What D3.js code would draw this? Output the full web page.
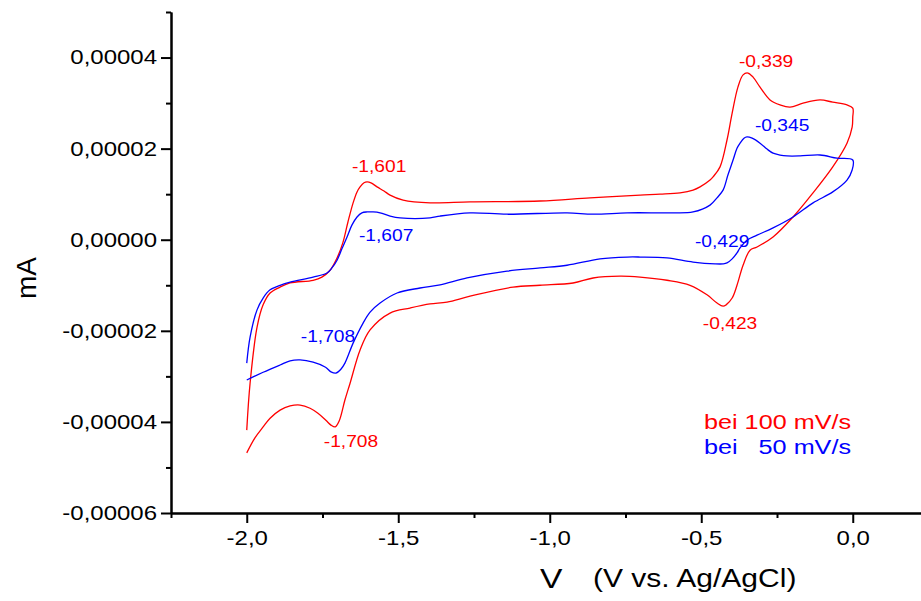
<!DOCTYPE html>
<html>
<head>
<meta charset="utf-8">
<script src="https://cdn.jsdelivr.net/npm/d3@7"></script>
<style>
  body { margin: 0; background: #fff; }
  text { font-family: Arial, "Liberation Sans", sans-serif; }
</style>
</head>
<body>
<svg id="chart" width="921" height="601"></svg>
<script>
// cyclic voltammograms, potential in V, current in 1e-5 mA
var I_UNIT = 1e-5;

var redV = [-2.000,-1.989,-1.966,-1.946,-1.923,-1.890,-1.857,-1.781,-1.752,-1.725,-1.702,-1.683,-1.666,-1.649,-1.636,-1.626,-1.613,-1.603,-1.590,-1.570,-1.547,-1.527,-1.484,-1.395,-1.263,-1.032,-0.867,-0.702,-0.636,-0.570,-0.527,-0.504,-0.471,-0.461,-0.438,-0.415,-0.398,-0.379,-0.362,-0.346,-0.329,-0.306,-0.273,-0.240,-0.207,-0.164,-0.108,-0.066,-0.019,0.000,
            0.000,-0.002,-0.019,-0.066,-0.131,-0.197,-0.263,-0.316,-0.339,-0.362,-0.382,-0.398,-0.418,-0.428,-0.448,-0.481,-0.537,-0.613,-0.702,-0.768,-0.857,-0.923,-1.032,-1.121,-1.263,-1.339,-1.395,-1.461,-1.527,-1.593,-1.626,-1.659,-1.676,-1.695,-1.708,-1.722,-1.738,-1.765,-1.791,-1.824,-1.857,-1.890,-1.923,-1.946,-1.973,-2.000];
var redI = [-4.18,-3.15,-1.92,-1.43,-1.17,-1.04,-0.95,-0.89,-0.82,-0.67,-0.40,-0.07,0.39,0.81,1.05,1.16,1.25,1.27,1.25,1.16,1.07,0.98,0.87,0.81,0.83,0.85,0.92,0.98,1.00,1.03,1.09,1.16,1.31,1.38,1.60,2.19,2.78,3.35,3.62,3.66,3.57,3.35,3.07,2.96,2.91,3.00,3.07,3.02,2.96,2.89,
            2.69,2.47,2.12,1.60,1.03,0.50,0.06,-0.16,-0.23,-0.56,-1.00,-1.28,-1.43,-1.46,-1.39,-1.21,-1.00,-0.89,-0.82,-0.80,-0.84,-0.95,-1.00,-1.04,-1.24,-1.37,-1.41,-1.50,-1.61,-1.98,-2.42,-3.15,-3.52,-3.98,-4.11,-4.07,-3.97,-3.81,-3.70,-3.63,-3.65,-3.74,-3.92,-4.11,-4.35,-4.68];

var blueV = [-2.000,-1.989,-1.966,-1.946,-1.923,-1.890,-1.857,-1.781,-1.735,-1.719,-1.702,-1.686,-1.669,-1.653,-1.636,-1.620,-1.603,-1.583,-1.560,-1.527,-1.494,-1.395,-1.362,-1.263,-1.141,-0.943,-0.857,-0.745,-0.636,-0.593,-0.527,-0.471,-0.448,-0.428,-0.412,-0.395,-0.382,-0.372,-0.359,-0.349,-0.332,-0.306,-0.283,-0.263,-0.240,-0.217,-0.174,-0.108,-0.052,0.000,
             -0.002,-0.019,-0.066,-0.131,-0.197,-0.263,-0.316,-0.349,-0.372,-0.382,-0.398,-0.415,-0.428,-0.454,-0.527,-0.613,-0.702,-0.745,-0.834,-0.943,-1.032,-1.141,-1.273,-1.362,-1.428,-1.504,-1.560,-1.593,-1.616,-1.649,-1.676,-1.690,-1.706,-1.722,-1.740,-1.781,-1.824,-1.857,-1.890,-1.946,-2.000];
var blueI = [-2.71,-2.14,-1.54,-1.28,-1.10,-1.00,-0.93,-0.82,-0.73,-0.62,-0.45,-0.20,0.06,0.32,0.50,0.59,0.61,0.61,0.59,0.52,0.48,0.48,0.52,0.59,0.56,0.59,0.56,0.59,0.59,0.59,0.61,0.76,0.92,1.09,1.42,1.75,2.01,2.12,2.23,2.26,2.23,2.12,1.99,1.90,1.86,1.84,1.84,1.86,1.79,1.75,
             1.53,1.31,1.05,0.81,0.50,0.26,0.10,-0.01,-0.18,-0.29,-0.42,-0.51,-0.53,-0.53,-0.49,-0.40,-0.38,-0.38,-0.42,-0.56,-0.62,-0.69,-0.84,-0.99,-1.06,-1.17,-1.39,-1.59,-1.83,-2.27,-2.71,-2.85,-2.93,-2.90,-2.80,-2.69,-2.64,-2.66,-2.75,-2.91,-3.08];

// peak annotations: text, label position (V, 1e-5 mA), colour
var peakText = ["-0,339", "-0,345", "-0,429", "-0,423", "-1,601", "-1,607", "-1,708", "-1,708"];
var peakV    = [-0.286, -0.233, -0.431, -0.405, -1.563, -1.540, -1.732, -1.656];
var peakI    = [3.79, 2.39, -0.16, -1.96, 1.49, -0.03, -2.25, -4.55];
var peakCol  = ["red", "blue", "blue", "red", "red", "blue", "blue", "red"];

var legendText = ["bei 100 mV/s", "bei   50 mV/s"];
var legendCol  = ["red", "blue"];

var xMajor = [-2.0, -1.5, -1.0, -0.5, 0.0];
var xMinor = [-2.25, -1.75, -1.25, -0.75, -0.25, 0.25];
var yMajor = [-6e-5, -4e-5, -2e-5, 0, 2e-5, 4e-5];
var yMinor = [-5e-5, -3e-5, -1e-5, 1e-5, 3e-5, 5e-5];

var RED = "#ff0000", BLUE = "#0000ff";
var SX = 1.2;   // the original text is a bit wide

var svg = d3.select("#chart");

var x = d3.scaleLinear().domain([-2.25, 0.25]).range([171, 928.5]);
var y = d3.scaleLinear().domain([-6e-5, 5e-5]).range([513, 12]);

var loc = d3.formatLocale({decimal: ",", thousands: ".", grouping: [3], currency: ["", ""], minus: "-"});

function styleAxis(g) {
    g.select(".domain").attr("stroke", "#000").attr("stroke-width", 2);
    g.selectAll(".tick line").attr("stroke", "#000").attr("stroke-width", 2);
    g.selectAll(".tick text").attr("fill", "#000").style("font-size", "20px");
}

// x axis
svg.append("g").attr("transform", "translate(0,513)")
    .call(d3.axisBottom(x).tickValues(xMinor).tickSize(5).tickSizeOuter(0).tickFormat(""))
    .call(styleAxis);
var gx = svg.append("g").attr("transform", "translate(0,513)")
    .call(d3.axisBottom(x).tickValues(xMajor).tickSize(10).tickSizeOuter(0).tickPadding(8).tickFormat(loc.format(".1f")))
    .call(styleAxis);
gx.selectAll(".tick text").attr("transform", "scale(" + SX + ",1)");

// y axis
svg.append("g").attr("transform", "translate(171,0)")
    .call(d3.axisLeft(y).tickValues(yMinor).tickSize(5).tickSizeOuter(0).tickFormat(""))
    .call(styleAxis);
var gy = svg.append("g").attr("transform", "translate(171,0)")
    .call(d3.axisLeft(y).tickValues(yMajor).tickSize(10).tickSizeOuter(0).tickPadding(4).tickFormat(loc.format(".5f")))
    .call(styleAxis);
gy.selectAll(".tick text").attr("x", -14 / SX).attr("transform", "scale(" + SX + ",1)");

// curves
var line = d3.line()
    .x(function(d) { return x(d[0]); })
    .y(function(d) { return y(d[1] * I_UNIT); })
    .curve(d3.curveCatmullRom.alpha(0.5));

svg.append("path")
    .datum(d3.zip(redV, redI))
    .attr("d", line)
    .attr("fill", "none").attr("stroke", RED).attr("stroke-width", 1.3);

svg.append("path")
    .datum(d3.zip(blueV, blueI))
    .attr("d", line)
    .attr("fill", "none").attr("stroke", BLUE).attr("stroke-width", 1.3);

// text helper, stretched horizontally like the original
function wideText(px, py, str, size, color, anchor) {
    return svg.append("text")
        .attr("transform", "translate(" + px + "," + py + ") scale(" + SX + ",1)")
        .attr("text-anchor", anchor)
        .style("font-size", size + "px")
        .style("white-space", "pre")
        .attr("fill", color)
        .text(str);
}

peakText.forEach(function(t, i) {
    wideText(x(peakV[i]), y(peakI[i] * I_UNIT), t, 16, peakCol[i] == "red" ? RED : BLUE, "middle");
});

legendText.forEach(function(t, i) {
    wideText(704, 429 + i * 25, t, 21, legendCol[i] == "red" ? RED : BLUE, "start");
});

// axis titles
svg.append("text")
    .attr("transform", "translate(36,278) rotate(-90)")
    .attr("text-anchor", "middle")
    .style("font-size", "28px")
    .text("mA");

wideText(540, 588, "V", 28, "#000", "start");
wideText(593, 587, "(V vs. Ag/AgCl)", 25, "#000", "start");
</script>
</body>
</html>
